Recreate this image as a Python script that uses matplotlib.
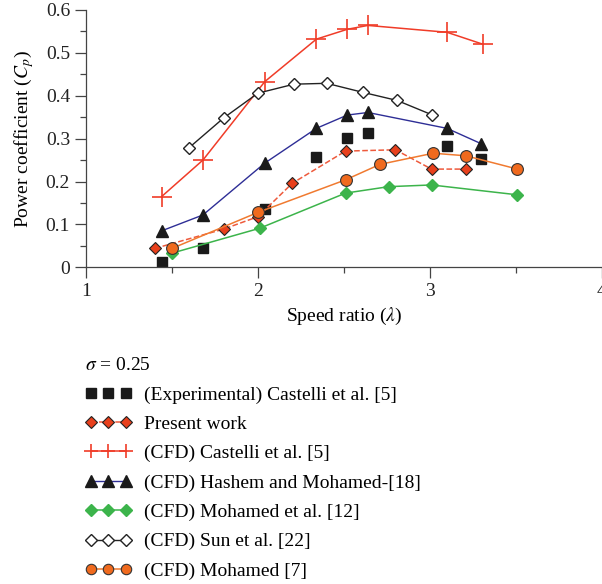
import matplotlib
matplotlib.use("Agg")
import matplotlib.pyplot as plt
from matplotlib.ticker import MultipleLocator

plt.rcParams['font.family'] = ['Liberation Serif', 'DejaVu Serif']
plt.rcParams['mathtext.fontset'] = 'stix'
plt.rcParams['font.size'] = 14

# data
exp_x = [1.44, 1.68, 2.04, 2.34, 2.52, 2.64, 3.10, 3.30]
exp_y = [0.012, 0.045, 0.136, 0.258, 0.301, 0.312, 0.284, 0.253]

present_x = [1.40, 1.80, 2.00, 2.20, 2.51, 2.80, 3.01, 3.21]
present_y = [0.044, 0.089, 0.118, 0.196, 0.271, 0.274, 0.229, 0.229]

castelli_x = [1.44, 1.68, 2.04, 2.34, 2.52, 2.64, 3.10, 3.31]
castelli_y = [0.165, 0.250, 0.433, 0.532, 0.555, 0.564, 0.548, 0.520]

hashem_x = [1.44, 1.68, 2.04, 2.34, 2.52, 2.64, 3.10, 3.30]
hashem_y = [0.085, 0.122, 0.243, 0.324, 0.355, 0.361, 0.324, 0.288]

mohamed12_x = [1.50, 2.01, 2.51, 2.76, 3.01, 3.51]
mohamed12_y = [0.033, 0.091, 0.173, 0.188, 0.192, 0.169]

sun_x = [1.60, 1.80, 2.00, 2.21, 2.40, 2.61, 2.81, 3.01]
sun_y = [0.279, 0.348, 0.406, 0.427, 0.429, 0.408, 0.389, 0.356]

mohamed7_x = [1.50, 2.00, 2.51, 2.71, 3.02, 3.21, 3.51]
mohamed7_y = [0.044, 0.128, 0.204, 0.240, 0.266, 0.260, 0.229]

fig = plt.figure(figsize=(6.02, 5.84), dpi=100)
ax = fig.add_axes([0.1429, 0.5423, 0.8566, 0.4406])

ax.plot(exp_x, exp_y, 's', color='#1a1a1a', markersize=6.5, linestyle='none',
        label='(Experimental) Castelli et al. [5]')
ax.plot(present_x, present_y, linestyle='--', color='#ee5a3c', lw=1.1,
        marker='D', markersize=6, markerfacecolor='#e8401c', markeredgecolor='#222222',
        markeredgewidth=0.8, label='Present work')
ax.plot(castelli_x, castelli_y, '-', color='#f03c28', lw=1.1, marker='+',
        markersize=15, markeredgewidth=1.2, label='(CFD) Castelli et al. [5]')
ax.plot(hashem_x, hashem_y, '-', color='#2e2e96', lw=1.0, marker='^',
        markersize=8, markerfacecolor='#1a1a1a', markeredgecolor='#1a1a1a',
        label='(CFD) Hashem and Mohamed-[18]')
ax.plot(mohamed12_x, mohamed12_y, '-', color='#3cb44b', lw=1.1, marker='D',
        markersize=6, markerfacecolor='#3cb44b', markeredgecolor='#3cb44b',
        label='(CFD) Mohamed et al. [12]')
ax.plot(sun_x, sun_y, '-', color='#222222', lw=1.0, marker='D',
        markersize=6, markerfacecolor='white', markeredgecolor='#222222',
        markeredgewidth=1.0, label='(CFD) Sun et al. [22]')
ax.plot(mohamed7_x, mohamed7_y, '-', color='#f07a30', lw=1.1, marker='o',
        markersize=8.5, markerfacecolor='#f06a1e', markeredgecolor='#333333',
        markeredgewidth=0.8, label='(CFD) Mohamed [7]')

ax.set_xlim(1, 4)
ax.set_ylim(0, 0.6)
ax.xaxis.set_major_locator(MultipleLocator(1))
ax.xaxis.set_minor_locator(MultipleLocator(0.5))
ax.yaxis.set_major_locator(MultipleLocator(0.1))
ax.yaxis.set_minor_locator(MultipleLocator(0.05))
ax.xaxis.set_major_formatter(plt.FuncFormatter(lambda v, p: '%d' % v))
ax.yaxis.set_major_formatter(plt.FuncFormatter(lambda v, p: '0' if v == 0 else '%.1f' % v))
ax.tick_params(which='major', direction='out', length=8, width=0.9, colors='#444444',
               labelcolor='#222222', labelsize=14)
ax.tick_params(which='minor', direction='out', length=4, width=0.9, colors='#444444')
for s in ['top', 'right']:
    ax.spines[s].set_visible(False)
for s in ['left', 'bottom']:
    ax.spines[s].set_color('#444444')
    ax.spines[s].set_linewidth(0.9)

ax.set_xlabel(r'Speed ratio ($\lambda$)', fontsize=14, labelpad=4)
ax.set_ylabel(r'Power coefficient ($C_p$)', fontsize=14, labelpad=7)

handles, labels = ax.get_legend_handles_labels()
leg = fig.legend(handles, labels, loc='upper left', bbox_to_anchor=(0.141, 0.388),
                 numpoints=3, handlelength=2.4, handletextpad=0.65, labelspacing=0.6,
                 frameon=False, fontsize=14, title=r'$\sigma$ = 0.25', title_fontsize=14,
                 alignment='left', borderaxespad=0, borderpad=0)
for h in leg.legend_handles:
    if h.get_marker() == '+':
        h.set_markersize(10)
    elif h.get_marker() == 'o':
        h.set_markersize(7.5)

fig.savefig('out.png', dpi=100)
